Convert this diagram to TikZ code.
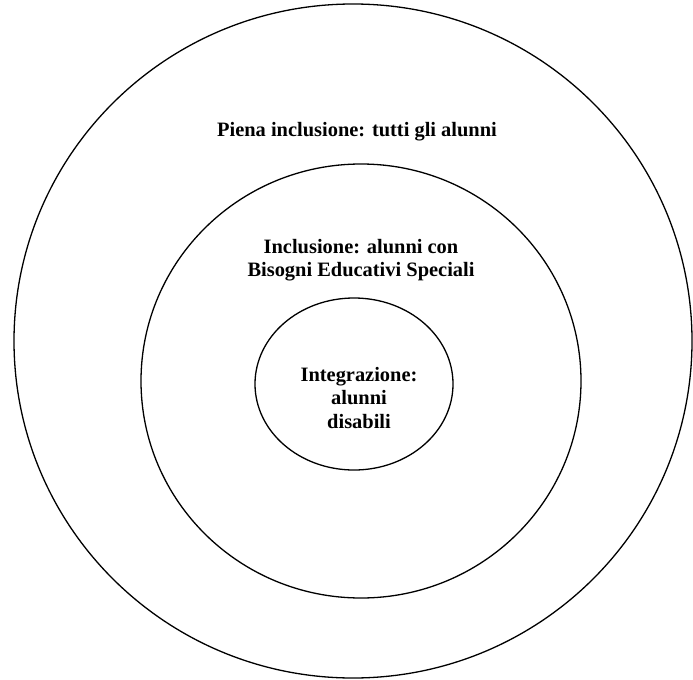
\documentclass[tikz,border=0pt]{standalone}
\usepackage{fontspec}
\setmainfont{Liberation Serif}
\begin{document}
\begin{tikzpicture}[x=1bp,y=-1bp,
  ring/.style={draw=black,line width=1.3bp},
  label/.style={font=\bfseries\fontsize{20.5}{23.5}\selectfont,align=center,inner sep=0pt}]
\useasboundingbox (0,0) rectangle (693,680);
% three nested circles
\draw[ring] (353,341) ellipse [x radius=339, y radius=337];
\draw[ring] (361,381) ellipse [x radius=220, y radius=217];
\draw[ring] (354,384) ellipse [x radius=99, y radius=86];
% labels
\node[label] (outer) at (357,132) {Piena inclusione: tutti gli alunni};
\node[label] (middle) at (361,260) {Inclusione: alunni con\\Bisogni Educativi Speciali};
\node[label] (inner) at (359,398) {Integrazione:\\alunni\\disabili};
\end{tikzpicture}
\end{document}
